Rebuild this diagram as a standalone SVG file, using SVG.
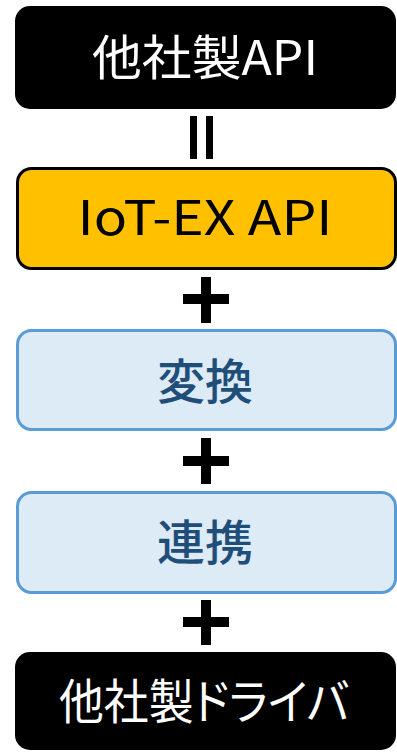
<svg xmlns="http://www.w3.org/2000/svg" width="397" height="752" viewBox="0 0 397 752">
  <style>
    .lbl { font-family: "Noto Sans CJK JP", "Noto Sans", sans-serif; font-size: 48px; text-anchor: middle; }
    .dark { fill: #000000; }
    .white { fill: #FFFFFF; }
    .api { fill: #FFC000; stroke: #000000; stroke-width: 3; }
    .blue { fill: #DDEBF7; stroke: #5B9BD5; stroke-width: 3; }
    .bluetxt { fill: #1F4E79; font-weight: 500; }
    .sym { fill: #000000; }
  </style>
  <rect width="397" height="752" fill="#FFFFFF"/>
  <g id="node-other-api">
    <rect class="dark" x="15" y="6" width="381" height="103" rx="15"/>
    <text class="lbl white" x="205" y="75" textLength="226" lengthAdjust="spacingAndGlyphs">他社製API</text>
  </g>
  <g id="node-iotex-api">
    <rect class="api" x="17.5" y="168.5" width="378" height="100" rx="14"/>
    <text class="lbl dark" x="205" y="235" textLength="255" lengthAdjust="spacingAndGlyphs">IoT-EX API</text>
  </g>
  <g id="node-henkan">
    <rect class="blue" x="17.5" y="330.5" width="378" height="99" rx="14"/>
    <text class="lbl bluetxt" x="205" y="399" textLength="96" lengthAdjust="spacingAndGlyphs">変換</text>
  </g>
  <g id="node-renkei">
    <rect class="blue" x="17.5" y="492.5" width="378" height="100" rx="14"/>
    <text class="lbl bluetxt" x="205" y="560" textLength="96" lengthAdjust="spacingAndGlyphs">連携</text>
  </g>
  <g id="node-other-driver">
    <rect class="dark" x="15" y="652" width="381" height="98" rx="15"/>
    <text class="lbl white" x="204" y="719" textLength="290" lengthAdjust="spacingAndGlyphs" style="font-feature-settings:'palt'">他社製ドライバ</text>
  </g>
  <g id="connectors">
    <rect class="sym" x="190" y="116" width="7" height="43"/>
    <rect class="sym" x="206" y="116" width="7" height="43"/>
    <rect class="sym" x="201" y="277" width="10" height="46"/>
    <rect class="sym" x="183" y="294" width="46" height="10"/>
    <rect class="sym" x="201" y="438" width="10" height="46"/>
    <rect class="sym" x="183" y="456" width="46" height="10"/>
    <rect class="sym" x="201" y="600" width="10" height="45"/>
    <rect class="sym" x="183" y="617" width="46" height="10"/>
  </g>
</svg>
